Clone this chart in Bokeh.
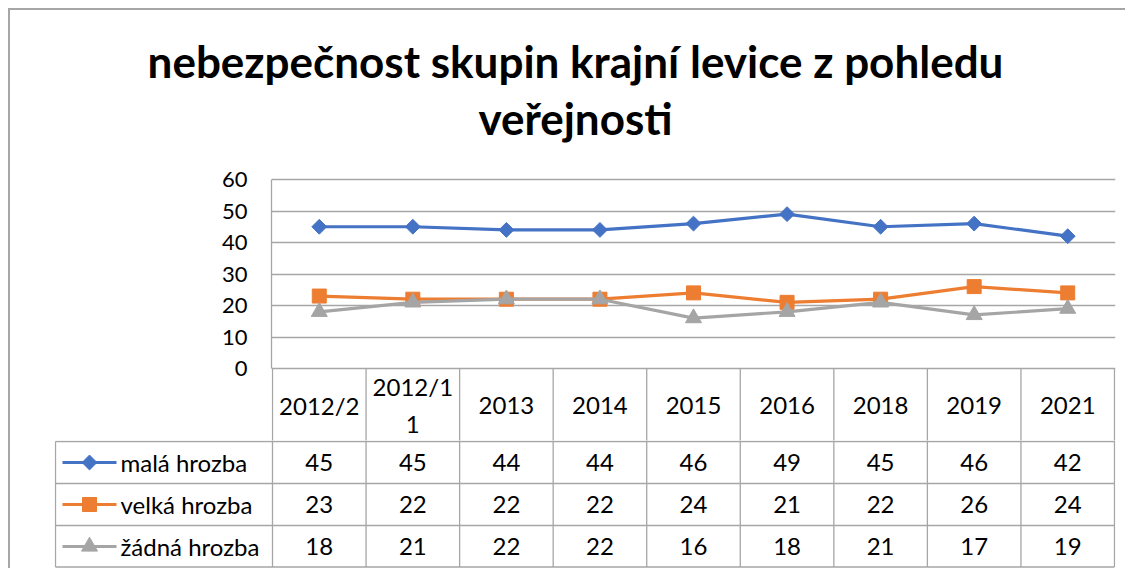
import math
from bokeh.plotting import figure
from bokeh.layouts import column
from bokeh.models import Range1d, FixedTicker, Label
from bokeh.core.properties import value
from bokeh.embed import file_html
from bokeh.resources import INLINE

# ---------------- data ----------------
title_lines = ["nebezpečnost skupin krajní levice z pohledu", "veřejnosti"]
categories = ["2012/2", "2012/11", "2013", "2014", "2015", "2016", "2018", "2019", "2021"]
series_names = ["malá hrozba", "velká hrozba", "žádná hrozba"]
mala = [45, 45, 44, 44, 46, 49, 45, 46, 42]
velka = [23, 22, 22, 22, 24, 21, 22, 26, 24]
zadna = [18, 21, 22, 22, 16, 18, 21, 17, 19]
y_ticks = [0, 10, 20, 30, 40, 50, 60]

# ---------------- styles ----------------
series_values = [mala, velka, zadna]
colors = ["#4472C4", "#ED7D31", "#A5A5A5"]
markers = [("square", math.pi / 4, 10.5), ("square", 0.0, 14), ("triangle", 0.0, 16)]
FONT = "Lato"
GRID = "#a6a6a6"
LW = 1.3
W = 1115
ORG = 10  # page position of the content origin (margin + border)
TXT = "24px"

n = len(categories)
xs = [i + 0.5 for i in range(n)]
cw = (1114 - 272) / n          # px per category
ppu = 189 / (y_ticks[-1] - y_ticks[0])  # px per value unit
Y_TOP_PX = 179                 # page y of the top tick
Y_ZERO_PX = 368                # page y of zero

# ---------------- title ----------------
TH = 155
tfig = figure(width=W, height=TH, x_range=Range1d(0, W), y_range=Range1d(0, TH),
              x_axis_type=None, y_axis_type=None, toolbar_location=None,
              output_backend="svg", min_border=0, frame_align=False)
tfig.grid.visible = False
tfig.outline_line_color = None
for txt, base in zip(title_lines, [60, 117]):
    tfig.add_layout(Label(x=575 - ORG, y=TH - (base - ORG), text=txt,
                          text_align="center", text_baseline="alphabetic",
                          text_font=FONT, text_font_style="bold",
                          text_font_size="44px", text_color="#000000"))

# ---------------- chart (with header row of the data table) ----------------
c_top_px = ORG + TH                  # 165
c_bottom_px = 440
CH = c_bottom_px - c_top_px
y_start = -(c_bottom_px - Y_ZERO_PX) / ppu
y_end = y_ticks[-1] + (Y_TOP_PX - c_top_px) / ppu
cfig = figure(width=W, height=CH, x_range=Range1d(-1 / cw, n + 1 / cw),
              y_range=Range1d(y_start, y_end),
              x_axis_type=None, toolbar_location=None, output_backend="svg",
              min_border_left=271 - ORG, min_border_right=ORG + W - 1115,
              min_border_top=0, min_border_bottom=0, frame_align=False)
cfig.outline_line_color = None
cfig.xgrid.visible = False
cfig.ygrid.ticker = FixedTicker(ticks=y_ticks)
cfig.ygrid.grid_line_color = GRID
cfig.ygrid.grid_line_width = LW
ax = cfig.yaxis[0]
ax.ticker = FixedTicker(ticks=y_ticks)
ax.bounds = (y_ticks[0], y_ticks[-1])
ax.axis_line_color = GRID
ax.axis_line_width = LW
ax.major_tick_in = 0
ax.major_tick_out = 0
ax.minor_tick_in = 0
ax.minor_tick_out = 0
ax.major_label_standoff = 24
ax.major_label_text_font = FONT
ax.major_label_text_font_size = "22px"
ax.major_label_text_color = "#000000"

for vals, col, (mk, ang, sz) in zip(series_values, colors, markers):
    cfig.line(xs, vals, line_color=col, line_width=3.2)
    cfig.scatter(xs, vals, marker=mk, angle=ang, size=sz, fill_color=col, line_color=col)

head_h = 73
cfig.segment(list(range(n + 1)), [0] * (n + 1), list(range(n + 1)), [y_start - 5] * (n + 1),
             line_color=GRID, line_width=LW)

def wrap(s, k=6):
    return s if len(s) <= k else s[:k] + "\n" + s[k:]

cfig.text(xs, [-(head_h / 2) / ppu] * n, text=[wrap(c) for c in categories],
          text_align="center", text_baseline="middle", text_font=value(FONT),
          text_font_size=TXT, text_color="#000000", text_line_height=1.25)

# ---------------- data table rows ----------------
row_h = 42
TBH = 128
t_top = c_bottom_px - Y_ZERO_PX   # 72
left_px = 55
xl = -(272 - left_px) / cw
tb = figure(width=W, height=TBH,
            x_range=Range1d(-(272 - 54) / cw, n + 1 / cw),
            y_range=Range1d(t_top + TBH, t_top),
            x_axis_type=None, y_axis_type=None, toolbar_location=None,
            output_backend="svg", min_border_left=54 - ORG, min_border_right=ORG + W - 1115,
            min_border_top=0, min_border_bottom=0, frame_align=False)
tb.grid.visible = False
tb.outline_line_color = None

row_tops = [head_h + k * row_h for k in range(len(series_names) + 1)]
table_bottom = row_tops[-1] - 0.5

sx0, sy0, sx1, sy1 = [], [], [], []
for i in range(n + 1):
    sx0.append(i); sy0.append(t_top - 5); sx1.append(i); sy1.append(table_bottom)
sx0.append(xl); sy0.append(head_h); sx1.append(xl); sy1.append(table_bottom)
for t in row_tops[:-1] + [table_bottom]:
    sx0.append(xl); sy0.append(t); sx1.append(n); sy1.append(t)
tb.segment(sx0, sy0, sx1, sy1, line_color=GRID, line_width=LW)

for k, (name, vals, col, (mk, ang, sz)) in enumerate(zip(series_names, series_values, colors, markers)):
    yc = head_h + row_h * k + row_h / 2
    tb.text(xs, [yc] * n, text=[str(v) for v in vals], text_align="center",
            text_baseline="middle", text_font=value(FONT), text_font_size=TXT,
            text_color="#000000")
    kx0 = (62 - 272) / cw
    kx1 = (116 - 272) / cw
    km = (89 - 272) / cw
    tb.line([kx0, kx1], [yc, yc], line_color=col, line_width=3.2)
    tb.scatter([km], [yc], marker=mk, angle=ang, size=sz, fill_color=col, line_color=col)
    tb.text([(120 - 272) / cw], [yc], text=[name], text_align="left", text_baseline="middle",
            text_font=value(FONT), text_font_size=TXT, text_color="#000000")

layout = column(tfig, cfig, tb, spacing=0,
                styles={"margin-top": "8px", "margin-left": "8px",
                        "border-top": "2px solid #a6a6a6", "border-left": "2px solid #a6a6a6"})

open("out.html", "w").write(file_html(layout, INLINE))
